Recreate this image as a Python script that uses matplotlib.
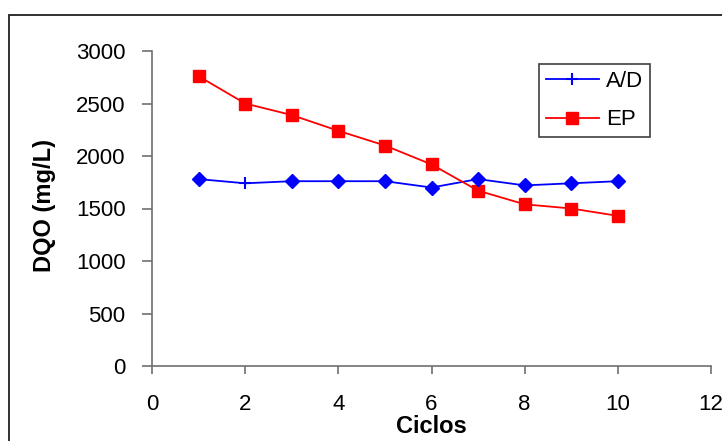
import numpy as np
import matplotlib
matplotlib.use("Agg")
import matplotlib.pyplot as plt
from matplotlib.lines import Line2D
from matplotlib.patches import Rectangle

plt.rcParams['font.family'] = ['Liberation Sans', 'DejaVu Sans']

ciclos = np.array([1, 2, 3, 4, 5, 6, 7, 8, 9, 10])
ad_values = np.array([1780, 1740, 1760, 1760, 1760, 1700, 1780, 1720, 1740, 1760])
ep_values = np.array([2760, 2500, 2390, 2240, 2100, 1920, 1670, 1540, 1500, 1430])
x_ticks = [0, 2, 4, 6, 8, 10, 12]
y_ticks = [0, 500, 1000, 1500, 2000, 2500, 3000]
series_labels = ["A/D", "EP"]

W, H = 722, 441
fig = plt.figure(figsize=(W / 100, H / 100), dpi=100)
ax = fig.add_axes([152 / W, 1 - 366 / H, (711 - 152) / W, (366 - 51) / H])

blue = '#0000FF'
red = '#FF0000'
axis_col = '#707070'

# A/D line with '+' marker at 2nd point, diamonds elsewhere
ax.plot(ciclos, ad_values, color=blue, lw=1.3, marker='+', markevery=[1],
        ms=9, mew=1.5, label=series_labels[0], zorder=3)
mask = np.arange(len(ciclos)) != 1
ax.plot(ciclos[mask], ad_values[mask], linestyle='none', marker='D', color=blue,
        ms=6.8, zorder=4)
ax.plot(ciclos, ep_values, color=red, lw=1.3, marker='s', ms=8,
        label=series_labels[1], zorder=3)

ax.set_xlim(0, 12)
ax.set_ylim(0, 3000)
ax.set_xticks(x_ticks)
ax.set_yticks(y_ticks)
ax.set_xticklabels([str(v) for v in x_ticks])
ax.set_yticklabels([str(v) for v in y_ticks])

for s in ['top', 'right']:
    ax.spines[s].set_visible(False)
for s in ['left', 'bottom']:
    ax.spines[s].set_color(axis_col)
    ax.spines[s].set_linewidth(1.2)
ax.tick_params(axis='both', colors=axis_col, labelcolor='black', labelsize=16,
               width=1.2)
ax.tick_params(axis='y', length=7, pad=12)
ax.tick_params(axis='x', length=6, pad=14)

fig.text(45 / W, 1 - 206 / H, 'DQO (mg/L)', rotation=90, ha='center', va='center',
         fontsize=17, fontweight='bold')
fig.text(431.5 / W, 1 - 426.5 / H, 'Ciclos', ha='center', va='center',
         fontsize=17, fontweight='bold')

h_ad = Line2D([], [], color=blue, lw=1.3, marker='+', ms=9, mew=1.5)
h_ep = Line2D([], [], color=red, lw=1.3, marker='s', ms=8)
leg = ax.legend([h_ad, h_ep], series_labels, loc='upper left',
                bbox_to_anchor=(539 / W, 1 - 64 / H), bbox_transform=fig.transFigure,
                borderaxespad=0, fontsize=16, fancybox=False, framealpha=1,
                edgecolor='#404040', handlelength=2.4, handletextpad=0.32,
                labelspacing=0.8, borderpad=0.3)
leg.get_frame().set_linewidth(1.2)

fig.add_artist(Rectangle((9 / W, -0.2), 1.5, 1 - 15 / H + 0.2,
                         transform=fig.transFigure, fill=False,
                         edgecolor='#202020', lw=1.3))

fig.savefig('out.png', dpi=100)
